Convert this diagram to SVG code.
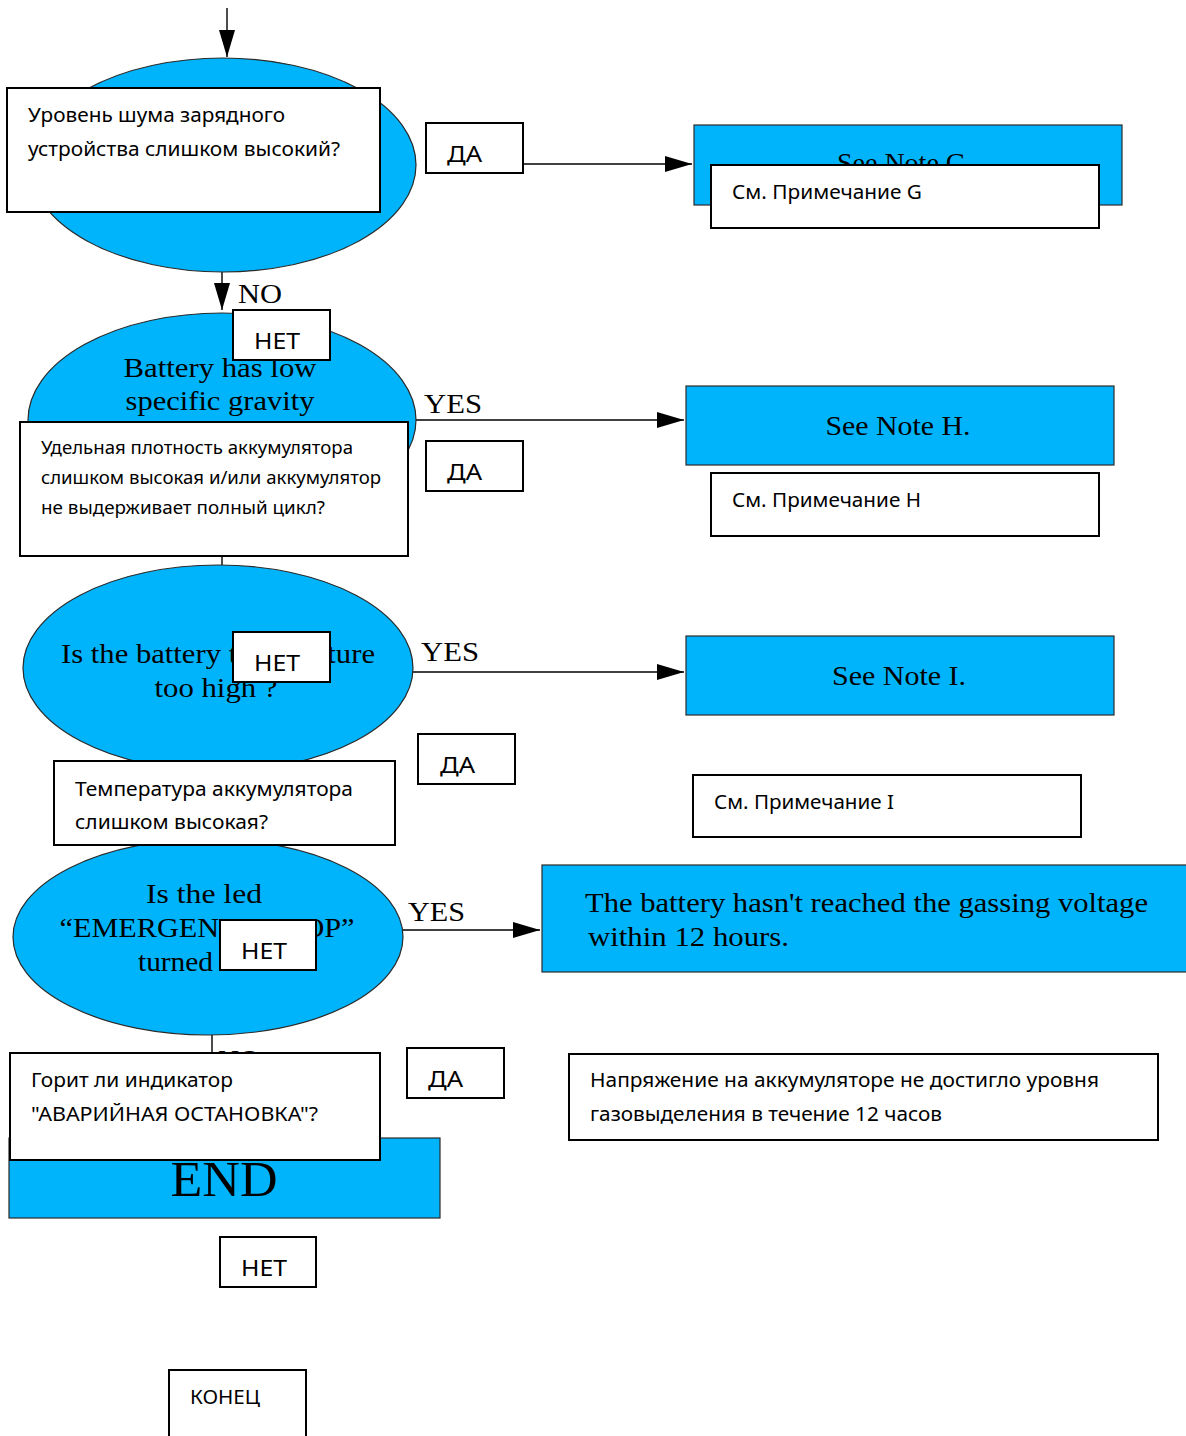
<svg xmlns="http://www.w3.org/2000/svg" width="1186" height="1436" viewBox="0 0 1186 1436">
<defs>
<style>
.blue{fill:#00B4FC;stroke:#2a2a2a;stroke-width:1.2}
.wbox{fill:#ffffff;stroke:#000000;stroke-width:2}
.conn{stroke:#000000;stroke-width:1.4;fill:none}
.en{font-family:"Liberation Serif","Times New Roman",serif;font-size:28px;fill:#000}
.lbl{font-family:"Liberation Serif","Times New Roman",serif;font-size:27px;fill:#000}
.ru{font-family:"Noto Sans","Open Sans",sans-serif;font-size:19px;fill:#000}
.ru2{font-family:"Noto Sans","Open Sans",sans-serif;font-size:18px;fill:#000}
.ruL{font-family:"Noto Sans","Open Sans",sans-serif;font-size:22px;fill:#000}
</style>
<marker id="ah" markerUnits="userSpaceOnUse" markerWidth="28" markerHeight="18" refX="27" refY="9" orient="auto">
<path d="M0,1 L27,9 L0,17 z" fill="#000"/>
</marker>
</defs>

<g id="connectors">
<line class="conn" x1="227" y1="8" x2="227" y2="57" marker-end="url(#ah)"/>
<line class="conn" x1="523" y1="164" x2="692" y2="164" marker-end="url(#ah)"/>
<line class="conn" x1="222" y1="272" x2="222" y2="310" marker-end="url(#ah)"/>
<line class="conn" x1="416" y1="420" x2="684" y2="420" marker-end="url(#ah)"/>
<line class="conn" x1="222" y1="527" x2="222" y2="565"/>
<line class="conn" x1="413" y1="672" x2="684" y2="672" marker-end="url(#ah)"/>
<line class="conn" x1="213" y1="771" x2="213" y2="840"/>
<line class="conn" x1="403" y1="930" x2="540" y2="930" marker-end="url(#ah)"/>
<line class="conn" x1="212" y1="1035" x2="212" y2="1138"/>
<text class="lbl" x="238" y="303" textLength="44" lengthAdjust="spacingAndGlyphs">NO</text>
<text class="lbl" x="424" y="413" textLength="58" lengthAdjust="spacingAndGlyphs">YES</text>
<text class="lbl" x="421" y="661" textLength="58" lengthAdjust="spacingAndGlyphs">YES</text>
<text class="lbl" x="408" y="921" textLength="57" lengthAdjust="spacingAndGlyphs">YES</text>
<text class="lbl" x="218" y="1069" textLength="42" lengthAdjust="spacingAndGlyphs">NO</text>
</g>

<g id="decision1">
<ellipse class="blue" cx="223" cy="165" rx="193" ry="107"/>
</g>
<g id="noteG">
<rect class="blue" x="694" y="125" width="428" height="80"/>
<text class="en" x="905" y="172" text-anchor="middle">See Note G.</text>
</g>

<g id="decision2">
<ellipse class="blue" cx="222" cy="420" rx="194" ry="107"/>
<text class="en" x="220" y="377" text-anchor="middle" textLength="193" lengthAdjust="spacingAndGlyphs">Battery has low</text>
<text class="en" x="220" y="410" text-anchor="middle" textLength="189" lengthAdjust="spacingAndGlyphs">specific gravity</text>
</g>
<g id="noteH">
<rect class="blue" x="686" y="386" width="428" height="79"/>
<text class="en" x="898" y="435" text-anchor="middle" textLength="145" lengthAdjust="spacingAndGlyphs">See Note H.</text>
</g>

<g id="decision3">
<ellipse class="blue" cx="218" cy="668" rx="195" ry="103"/>
<text class="en" x="218" y="663" text-anchor="middle" textLength="314" lengthAdjust="spacingAndGlyphs">Is the battery temperature</text>
<text class="en" x="216" y="697" text-anchor="middle" textLength="123" lengthAdjust="spacingAndGlyphs">too high ?</text>
</g>
<g id="noteI">
<rect class="blue" x="686" y="636" width="428" height="79"/>
<text class="en" x="899" y="685" text-anchor="middle" textLength="134" lengthAdjust="spacingAndGlyphs">See Note I.</text>
</g>

<g id="decision4">
<ellipse class="blue" cx="208" cy="937" rx="195" ry="98"/>
<text class="en" x="204" y="903" text-anchor="middle" textLength="116" lengthAdjust="spacingAndGlyphs">Is the led</text>
<text class="en" x="207" y="937" text-anchor="middle" textLength="295" lengthAdjust="spacingAndGlyphs">“EMERGENCY STOP”</text>
<text class="en" x="204" y="971" text-anchor="middle" textLength="132" lengthAdjust="spacingAndGlyphs">turned on ?</text>
</g>
<g id="gassing">
<rect class="blue" x="542" y="865" width="650" height="107"/>
<text class="en" x="585" y="912" textLength="563" lengthAdjust="spacingAndGlyphs">The battery hasn't reached the gassing voltage</text>
<text class="en" x="588" y="946" textLength="201" lengthAdjust="spacingAndGlyphs">within 12 hours.</text>
</g>

<g id="end">
<rect class="blue" x="9" y="1138" width="431" height="80"/>
<text class="en" x="224" y="1196" text-anchor="middle" style="font-size:50px" textLength="107" lengthAdjust="spacingAndGlyphs">END</text>
</g>

<g id="ru-q1">
<rect class="wbox" x="7" y="88" width="373" height="124"/>
<text class="ru" x="28" y="122" textLength="257" lengthAdjust="spacingAndGlyphs">Уровень шума зарядного</text>
<text class="ru" x="28" y="156" textLength="312" lengthAdjust="spacingAndGlyphs">устройства слишком высокий?</text>
</g>
<g id="ru-yes1">
<rect class="wbox" x="426" y="123" width="97" height="50"/>
<text class="ruL" x="447" y="162" textLength="35" lengthAdjust="spacingAndGlyphs">ДА</text>
</g>
<g id="ru-noteG">
<rect class="wbox" x="711" y="165" width="388" height="63"/>
<text class="ru" x="732" y="199" textLength="190" lengthAdjust="spacingAndGlyphs">См. Примечание G</text>
</g>

<g id="ru-no1">
<rect class="wbox" x="233" y="310" width="97" height="50"/>
<text class="ruL" x="254" y="349" textLength="46" lengthAdjust="spacingAndGlyphs">НЕТ</text>
</g>
<g id="ru-q2">
<rect class="wbox" x="20" y="422" width="388" height="134"/>
<text class="ru2" x="41" y="454" textLength="312" lengthAdjust="spacingAndGlyphs">Удельная плотность аккумулятора</text>
<text class="ru2" x="41" y="484" textLength="340" lengthAdjust="spacingAndGlyphs">слишком высокая и/или аккумулятор</text>
<text class="ru2" x="41" y="514" textLength="284" lengthAdjust="spacingAndGlyphs">не выдерживает полный цикл?</text>
</g>
<g id="ru-yes2">
<rect class="wbox" x="426" y="441" width="97" height="50"/>
<text class="ruL" x="447" y="480" textLength="35" lengthAdjust="spacingAndGlyphs">ДА</text>
</g>
<g id="ru-noteH">
<rect class="wbox" x="711" y="473" width="388" height="63"/>
<text class="ru" x="732" y="507" textLength="189" lengthAdjust="spacingAndGlyphs">См. Примечание H</text>
</g>

<g id="ru-no2">
<rect class="wbox" x="233" y="632" width="97" height="50"/>
<text class="ruL" x="254" y="671" textLength="46" lengthAdjust="spacingAndGlyphs">НЕТ</text>
</g>
<g id="ru-yes3">
<rect class="wbox" x="418" y="734" width="97" height="50"/>
<text class="ruL" x="440" y="773" textLength="35" lengthAdjust="spacingAndGlyphs">ДА</text>
</g>
<g id="ru-q3">
<rect class="wbox" x="54" y="761" width="341" height="84"/>
<text class="ru" x="75" y="796" textLength="278" lengthAdjust="spacingAndGlyphs">Температура аккумулятора</text>
<text class="ru" x="75" y="829" textLength="193" lengthAdjust="spacingAndGlyphs">слишком высокая?</text>
</g>
<g id="ru-noteI">
<rect class="wbox" x="693" y="775" width="388" height="62"/>
<text class="ru" x="714" y="809" textLength="180" lengthAdjust="spacingAndGlyphs">См. Примечание I</text>
</g>

<g id="ru-no3">
<rect class="wbox" x="220" y="920" width="96" height="50"/>
<text class="ruL" x="241" y="959" textLength="46" lengthAdjust="spacingAndGlyphs">НЕТ</text>
</g>
<g id="ru-yes4">
<rect class="wbox" x="407" y="1048" width="97" height="50"/>
<text class="ruL" x="428" y="1087" textLength="35" lengthAdjust="spacingAndGlyphs">ДА</text>
</g>
<g id="ru-gassing">
<rect class="wbox" x="569" y="1054" width="589" height="86"/>
<text class="ru" x="590" y="1087" textLength="509" lengthAdjust="spacingAndGlyphs">Напряжение на аккумуляторе не достигло уровня</text>
<text class="ru" x="590" y="1121" textLength="352" lengthAdjust="spacingAndGlyphs">газовыделения в течение 12 часов</text>
</g>
<g id="ru-q4">
<rect class="wbox" x="10" y="1053" width="370" height="107"/>
<text class="ru" x="31" y="1087" textLength="202" lengthAdjust="spacingAndGlyphs">Горит ли индикатор</text>
<text class="ru" x="31" y="1121" textLength="287" lengthAdjust="spacingAndGlyphs">"АВАРИЙНАЯ ОСТАНОВКА"?</text>
</g>
<g id="ru-no4">
<rect class="wbox" x="220" y="1237" width="96" height="50"/>
<text class="ruL" x="241" y="1276" textLength="46" lengthAdjust="spacingAndGlyphs">НЕТ</text>
</g>
<g id="ru-end">
<rect class="wbox" x="169" y="1370" width="137" height="80"/>
<text class="ru" x="190" y="1404" textLength="70" lengthAdjust="spacingAndGlyphs">КОНЕЦ</text>
</g>
</svg>
